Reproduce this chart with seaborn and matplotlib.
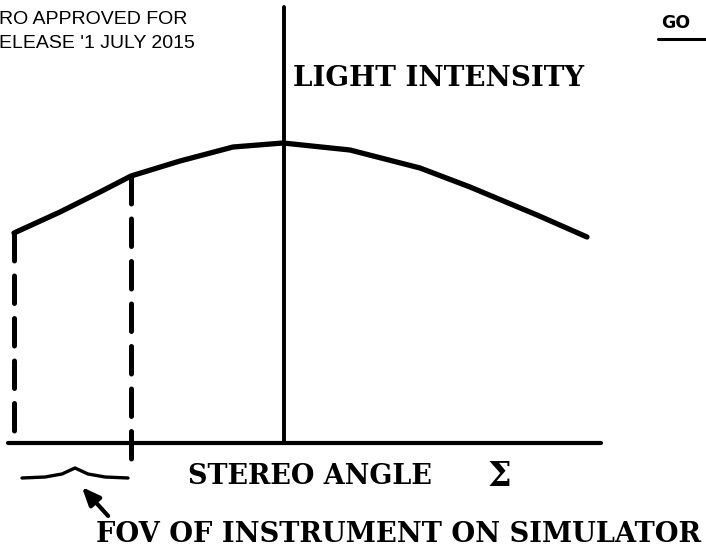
import matplotlib
matplotlib.use("Agg")
import matplotlib.pyplot as plt
import seaborn as sns
import pandas as pd

# ---- data (stereo angle vs light intensity, in drawing units) ----
angle = [14, 60, 100, 131, 180, 233, 283, 350, 420, 470, 537, 587]
intensity = [210, 231, 251, 267, 282, 296, 300, 293, 275, 256, 228, 206]

fov_edges = [14, 131]          # field of view boundaries (dashed)
fov_bottoms = [0, -16]
peak_angle = 284               # intensity axis position
axis_x_range = [8, 601]
axis_y_top = 436

brace_x = [22, 45, 62, 75, 88, 105, 128]
brace_y = [-35, -34, -31, -25, -31, -34, -35]

title_text = "LIGHT INTENSITY"
xlabel_text = "STEREO ANGLE"
sigma_text = "Σ"
note_text = "FOV OF INSTRUMENT ON SIMULATOR"
stamp_lines = ["RO APPROVED FOR", "ELEASE '1 JULY 2015"]
corner_text = "GO"

sns.set_theme(style="white")
plt.rcParams['font.family'] = ['DejaVu Serif', 'Liberation Serif']

fig = plt.figure(figsize=(7.06, 5.58), dpi=100)
ax = fig.add_axes([0, 0, 1, 1])
ax.set_xlim(0, 706)
ax.set_ylim(443 - 558, 443)
ax.axis("off")

df = pd.DataFrame({"angle": angle, "intensity": intensity})
sns.lineplot(data=df, x="angle", y="intensity", ax=ax, color="black",
             linewidth=3.8, solid_capstyle="round", solid_joinstyle="round")

# axes lines
ax.plot(axis_x_range, [0, 0], color="black", linewidth=3.0)
ax.plot([peak_angle, peak_angle], [0, axis_y_top], color="black", linewidth=2.8)

# dashed FOV lines
for xe, yb in zip(fov_edges, fov_bottoms):
    yv = df.loc[df["angle"] == xe, "intensity"].iloc[0]
    ax.plot([xe, xe], [yv, yb], color="black", linewidth=3.6,
            linestyle=(0, (5.5, 3.0)), dash_capstyle="round")

# brace and arrow
ax.plot(brace_x, brace_y, color="black", linewidth=2.4)
ax.annotate("", xy=(80, -42), xytext=(110, -75),
            arrowprops=dict(arrowstyle="-|>,head_length=0.9,head_width=0.38",
                            color="black", lw=3.0))

serif = ['DejaVu Serif', 'Liberation Serif']
t_title = ax.text(293, 443 - 79, title_text, fontsize=17, ha="left", va="center",
                  fontweight="bold", color="black", family=serif)
t_xlabel = ax.text(188, 443 - 476, xlabel_text, fontsize=15, ha="left", va="center",
                   fontweight="bold", color="black", family=serif)
ax.text(499, 443 - 477, sigma_text, fontsize=24, ha="center", va="center",
        color="black", family=['DejaVu Serif'], fontweight="bold")
t_note = ax.text(96, 443 - 535, note_text, fontsize=17, ha="left", va="center",
                 fontweight="bold", color="black", family=serif)

# fit the widths of the large labels to the reference extents
fig.canvas.draw()
renderer = fig.canvas.get_renderer()
for t, width in [(t_title, 292), (t_xlabel, 245), (t_note, 606)]:
    w = t.get_window_extent(renderer).width
    t.set_fontsize(t.get_fontsize() * width / w)

for i, line in enumerate(stamp_lines):
    ax.text(-1, 443 - (20 + 23 * i), line, fontsize=14, ha="left", va="center",
            color="black", family=['Liberation Sans', 'DejaVu Sans'])

ax.text(661, 443 - 23, corner_text, fontsize=12.5, ha="left", va="center",
        color="black", fontweight="bold", family=['DejaVu Sans', 'Liberation Sans'])
ax.plot([658, 706], [443 - 39, 443 - 39], color="black", linewidth=2.2)

fig.savefig("out.png", dpi=100, facecolor="white")
